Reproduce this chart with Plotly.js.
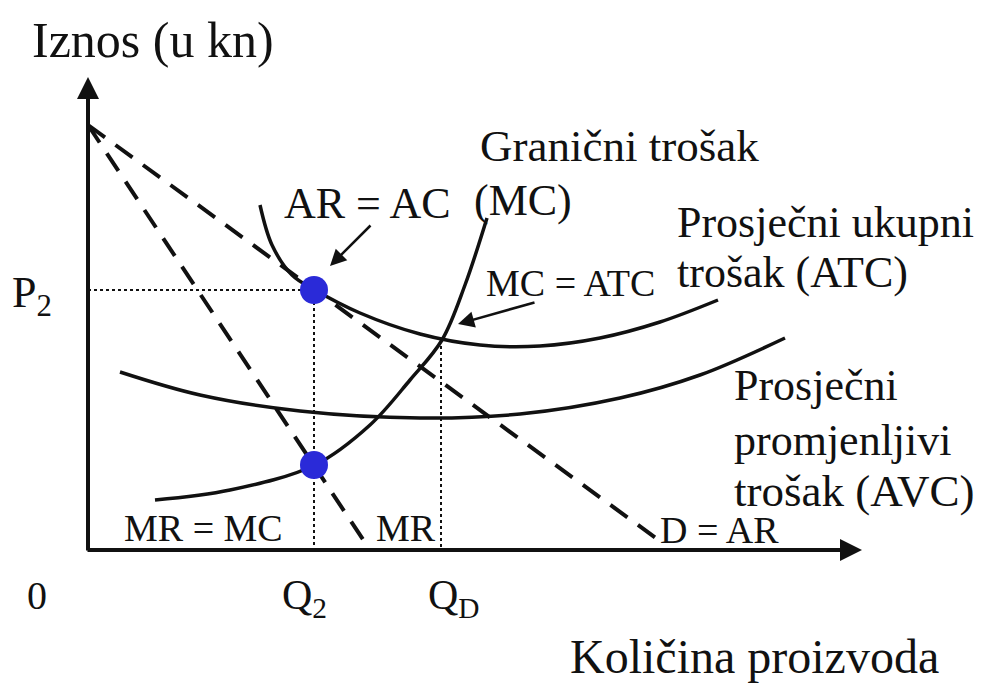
<!DOCTYPE html>
<html><head><meta charset="utf-8">
<script src="https://cdn.plot.ly/plotly-3.0.1.min.js"></script>
<style>html,body{margin:0;padding:0;background:#fff}#c{width:982px;height:684px}</style>
</head><body><div id="c"></div>
<script>
// Curve points (horizontal position, vertical position in picture units; y grows downward)
const demandX = [88, 660];
const demandY = [125, 541];
const mrX = [88, 370];
const mrY = [125, 550];
const mcX = [155, 230, 315, 370, 410, 442, 465, 487];
const mcY = [500, 490, 465, 425, 380, 340, 285, 218];
const atcX = [260, 272, 292, 315, 360, 420, 480, 540, 600, 660, 718];
const atcY = [205, 245, 275, 290, 313, 334, 345, 346, 338, 322, 300];
const avcX = [120, 200, 300, 420, 520, 620, 700, 785];
const avcY = [372, 395, 411, 418, 414, 398, 375, 338];
const eqX = [314, 314];
const eqY = [290, 465];
const p2Level = 290;
const q2 = 314;
const qD = 441;
const qDLevel = 340;
const origin = [88, 550];
const axisEnd = [862, 77];

const F = 'Liberation Serif';
const black = '#111';

const traces = [
  {x: demandX, y: demandY, mode: 'lines', line: {color: black, width: 4, dash: '21px,13px'}},
  {x: mrX, y: mrY, mode: 'lines', line: {color: black, width: 4, dash: '21px,13px'}},
  {x: [origin[0], q2], y: [p2Level, p2Level], mode: 'lines', line: {color: black, width: 2, dash: 'dot'}},
  {x: [q2, q2], y: [p2Level, origin[1]], mode: 'lines', line: {color: black, width: 2, dash: 'dot'}},
  {x: [qD, qD], y: [qDLevel, origin[1]], mode: 'lines', line: {color: black, width: 2, dash: 'dot'}},
  {x: mcX, y: mcY, mode: 'lines', line: {color: black, width: 3.5, shape: 'spline'}},
  {x: atcX, y: atcY, mode: 'lines', line: {color: black, width: 3.5, shape: 'spline'}},
  {x: avcX, y: avcY, mode: 'lines', line: {color: black, width: 3.5, shape: 'spline'}},
  {x: eqX, y: eqY, mode: 'markers', marker: {color: '#2a2ad8', size: 28}}
];

function txt(t, x, y, size) {
  return {text: t, x: x, y: y, xref: 'x', yref: 'y', xanchor: 'left', yanchor: 'middle',
    showarrow: false, font: {family: F, size: size, color: black}};
}
function arrow(x, y, ax, ay, w, s) {
  return {text: '', x: x, y: y, ax: ax, ay: ay, xref: 'x', yref: 'y', axref: 'x', ayref: 'y',
    showarrow: true, arrowhead: 2, arrowwidth: w, arrowsize: s, arrowcolor: black};
}

const annotations = [
  arrow(axisEnd[0], origin[1], origin[0] - 2, origin[1], 4, 1.1),
  arrow(origin[0], axisEnd[1], origin[0], origin[1] + 2, 4, 1.1),
  arrow(330, 266, 372, 224, 2.5, 1.3),
  arrow(458, 324, 536, 302, 2.5, 1.3),
  txt('Iznos (u kn)', 30, 40, 50),
  txt('Granični trošak', 478, 146, 45),
  txt('AR = AC', 282, 203, 44),
  txt('(MC)', 472, 200, 44),
  txt('Prosječni ukupni', 675, 222, 44),
  txt('trošak (ATC)', 675, 272, 44),
  txt('MC = ATC', 484, 283, 38),
  txt('P<sub>2</sub>', 10, 295, 44),
  txt('Prosječni', 732, 385, 44),
  txt('promjenljivi', 732, 440, 44),
  txt('trošak (AVC)', 732, 491, 45),
  txt('MR = MC', 122, 528, 38),
  txt('MR', 374, 528, 38),
  txt('D = AR', 658, 530, 38),
  txt('0', 25, 595, 40),
  txt('Q<sub>2</sub>', 280, 598, 42),
  txt('Q<sub>D</sub>', 426, 598, 42),
  txt('Količina proizvoda', 568, 656, 48)
];

const layout = {
  width: 982, height: 684,
  margin: {l: 0, r: 0, t: 0, b: 0},
  paper_bgcolor: '#fff', plot_bgcolor: '#fff',
  showlegend: false,
  xaxis: {range: [0, 982], visible: false, fixedrange: true},
  yaxis: {range: [684, 0], visible: false, fixedrange: true},
  annotations: annotations
};
Plotly.newPlot('c', traces, layout, {displayModeBar: false, staticPlot: true});
</script></body></html>
